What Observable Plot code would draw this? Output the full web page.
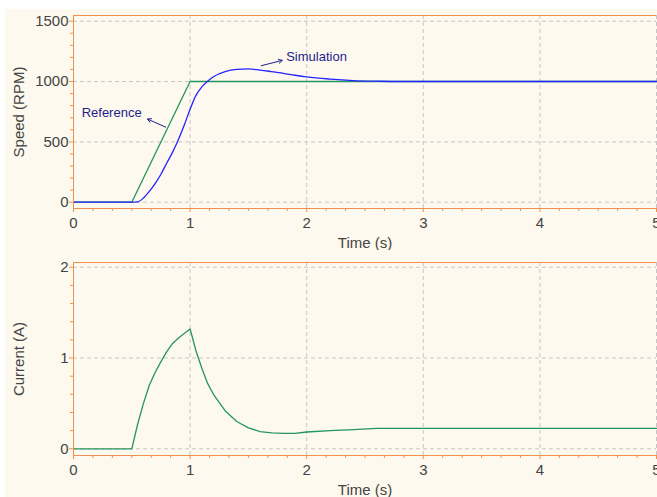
<!DOCTYPE html>
<html><head><meta charset="utf-8">
<script src="https://cdn.jsdelivr.net/npm/d3@7"></script>
<script src="https://cdn.jsdelivr.net/npm/@observablehq/plot@0.6"></script>
<style>
html,body{margin:0;padding:0;background:#fff;overflow:hidden;width:657px;height:497px;}
#bg{position:absolute;left:5px;top:9px;width:652px;height:488px;background:#fdf9ee;}
#chart{position:absolute;left:0;top:0;width:657px;}
#chart svg{display:block;}
</style></head><body><div id="bg"></div><div id="chart"></div>
<script>
// ---- data ----
const timeTicks = [0, 1, 2, 3, 4, 5];
const speedTicks = [0, 500, 1000, 1500];
const currentTicks = [0, 1, 2];

const refT = [0, 0.5, 1.0, 5.0];
const refSpeed = [0, 0, 1000, 1000];

const simT = [0, 0.5, 0.55, 0.6, 0.65, 0.7, 0.75, 0.8, 0.85, 0.9, 0.95, 1.0, 1.05, 1.1, 1.15, 1.2, 1.3, 1.4, 1.5, 1.6, 1.7, 1.8, 1.9, 2.0, 2.2, 2.4, 2.6, 2.8, 3.0, 5.0];
const simSpeed = [0, 0, 3, 35, 90, 155, 232, 325, 415, 520, 640, 770, 885, 955, 1003, 1040, 1082, 1100, 1104, 1095, 1082, 1068, 1052, 1038, 1020, 1008, 1003, 1000, 1000, 1000];

const curT = [0, 0.5, 0.55, 0.6, 0.65, 0.7, 0.75, 0.8, 0.85, 0.9, 0.95, 1.0, 1.05, 1.1, 1.15, 1.2, 1.3, 1.4, 1.5, 1.6, 1.7, 1.8, 1.9, 2.0, 2.2, 2.4, 2.6, 3.0, 5.0];
const current = [0, 0, 0.27, 0.5, 0.7, 0.84, 0.96, 1.07, 1.16, 1.22, 1.27, 1.32, 1.08, 0.89, 0.72, 0.6, 0.42, 0.3, 0.23, 0.19, 0.175, 0.17, 0.17, 0.185, 0.2, 0.21, 0.225, 0.225, 0.225];

const noteText = ["Reference", "Simulation"];
const noteT = [0.07, 1.824];
const noteV = [739, 1206];
const arrowT1 = [0.79, 1.61];
const arrowV1 = [622, 1131];
const arrowT2 = [0.635, 1.79];
const arrowV2 = [689, 1175];

// ---- styling ----
const orange = "#f0904e";
const gridC = "#c6c6c6";
const labelC = "#444";
const timeMinor = d3.range(0, 30).map(i => i / 6).filter(v => Math.abs(v - Math.round(v)) > 1e-9);
const speedMinor = d3.range(0, 1501, 100).filter(v => v % 500 !== 0);
const currentMinor = d3.range(0, 11).map(i => i / 5).filter(v => Math.abs(v - Math.round(v)) > 1e-9);

function panel({height, marginTop, yDomain, yTicks, yMinor, yLabel, marks}) {
  return Plot.plot({
    width: 657, height, marginLeft: 73, marginRight: 1, marginTop, marginBottom: 42,
    style: {background: "transparent", fontFamily: "'Liberation Sans', Arial, sans-serif", fontSize: "15px"},
    x: {domain: [0, 5]},
    y: {domain: yDomain},
    marks: [
      Plot.gridX(timeTicks, {stroke: gridC, strokeOpacity: 1, strokeDasharray: "4,3"}),
      Plot.gridY(yTicks, {stroke: gridC, strokeOpacity: 1, strokeDasharray: "4,3"}),
      ...marks,
      Plot.ruleX([0], {stroke: orange}),
      Plot.ruleY([yDomain[0]], {stroke: orange}),
      Plot.ruleY([yDomain[1]], {stroke: orange}),
      Plot.axisX(timeMinor, {tickSize: 3, text: null, stroke: orange, label: null}),
      Plot.axisX(timeTicks, {tickSize: 4, tickPadding: 5, tickFormat: "d", stroke: orange, fill: labelC, label: "Time (s)", labelAnchor: "center", labelOffset: 39, labelArrow: false}),
      Plot.axisY(yMinor, {tickSize: 3, text: null, stroke: orange, label: null}),
      Plot.axisY(yTicks, {tickSize: 4, tickPadding: 1, tickFormat: "d", stroke: orange, fill: labelC, label: yLabel, labelAnchor: "center", labelOffset: 60, labelArrow: false})
    ]
  });
}

const refData = refT.map((t, i) => ({t, v: refSpeed[i]}));
const simData = simT.map((t, i) => ({t, v: simSpeed[i]}));
const curData = curT.map((t, i) => ({t, v: current[i]}));
const notes = noteText.map((s, i) => ({s, t: noteT[i], v: noteV[i]}));
const arrows = arrowT1.map((t, i) => ({x1: t, y1: arrowV1[i], x2: arrowT2[i], y2: arrowV2[i]}));

const speedPanel = panel({
  height: 250, marginTop: 15, yDomain: [-52, 1547], yTicks: speedTicks, yMinor: speedMinor, yLabel: "Speed (RPM)",
  marks: [
    Plot.line(refData, {x: "t", y: "v", stroke: "#24955c", strokeWidth: 1.3}),
    Plot.line(simData, {x: "t", y: "v", stroke: "#2424ff", strokeWidth: 1.3, curve: "monotone-x"}),
    Plot.arrow(arrows, {x1: "x1", y1: "y1", x2: "x2", y2: "y2", stroke: "#1e1e8c", strokeWidth: 1, headLength: 6}),
    Plot.text(notes, {x: "t", y: "v", text: "s", textAnchor: "start", fill: "#1e1e8c", fontSize: 13})
  ]
});
const currentPanel = panel({
  height: 247, marginTop: 12, yDomain: [-0.074, 2.052], yTicks: currentTicks, yMinor: currentMinor, yLabel: "Current (A)",
  marks: [
    Plot.line(curData, {x: "t", y: "v", stroke: "#24955c", strokeWidth: 1.3})
  ]
});
document.getElementById("chart").append(speedPanel, currentPanel);
</script>
</body></html>
